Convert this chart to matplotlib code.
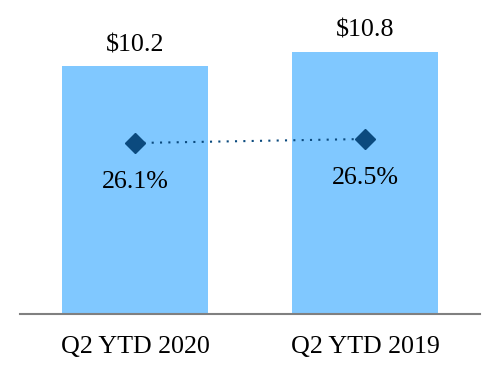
import matplotlib
matplotlib.use("Agg")
import matplotlib.pyplot as plt

categories = ["Q2 YTD 2020", "Q2 YTD 2019"]
revenue = [10.2, 10.8]
margin = [26.1, 26.5]
revenue_labels = ["$10.2", "$10.8"]
margin_labels = ["26.1%", "26.5%"]

plt.rcParams["font.family"] = ["Liberation Serif", "DejaVu Serif"]

fig = plt.figure(figsize=(5, 3.8), dpi=100)
ax = fig.add_axes([20/500, 66/380, 460/500, 284/380])
x = list(range(len(categories)))

ax.bar(x, revenue, width=0.635, color="#80C8FF", zorder=1)
ax.set_xlim(-0.5, 1.5)
ax.set_ylim(0, 11.69)
for xi, v, lab in zip(x, revenue, revenue_labels):
    ax.annotate(lab, (xi, v), xytext=(0, 21), textcoords="offset pixels",
                ha="center", va="center", fontsize=18.7)

ax2 = ax.twinx()
ax2.set_ylim(9.0, 37.4)
ax2.plot(x, margin, color="#0B4A7E", linestyle=(0, (1, 3)), linewidth=1.5,
         marker="D", markersize=10, zorder=3)
for xi, v, lab in zip(x, margin, margin_labels):
    ax2.annotate(lab, (xi, v), xytext=(0, -39), textcoords="offset pixels",
                 ha="center", va="center", fontsize=18.7)

for a in (ax, ax2):
    for side in ("top", "left", "right"):
        a.spines[side].set_visible(False)
    a.set_yticks([])
ax2.spines["bottom"].set_visible(False)
ax.spines["bottom"].set_color("#808080")
ax.spines["bottom"].set_linewidth(1.5)
ax.set_xticks(x)
ax.set_xticklabels(categories, fontsize=18.7)
ax.tick_params(axis="x", length=0, pad=16)

fig.savefig("out.png", dpi=100)
